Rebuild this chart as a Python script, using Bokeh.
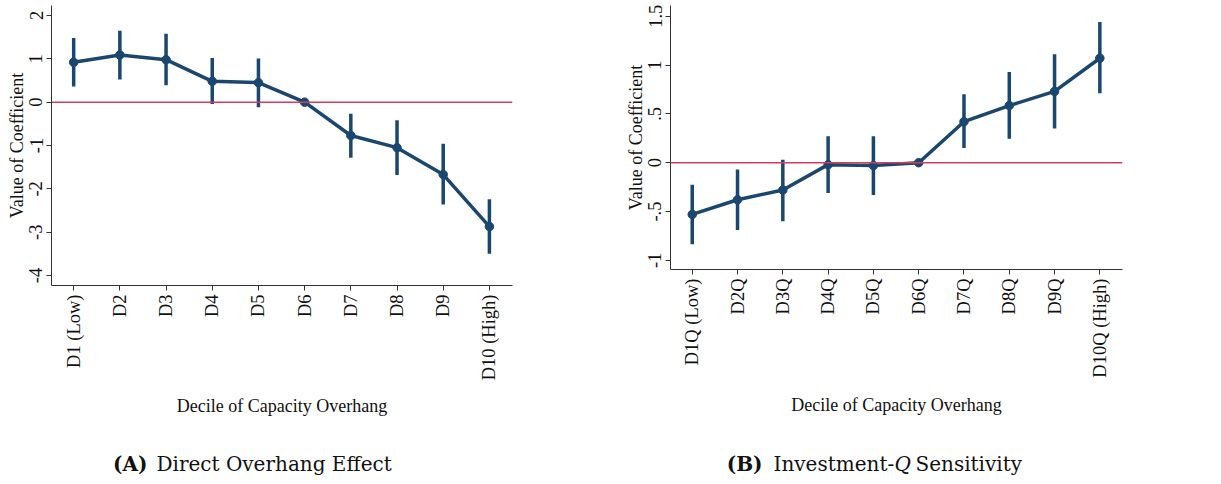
from bokeh.plotting import figure
from bokeh.layouts import column, row
from bokeh.models import FixedTicker, Span, ColumnDataSource, Range1d
from bokeh.core.properties import value
from bokeh.embed import file_html
from bokeh.resources import INLINE

# ---- data ----
cats_a = ["D1 (Low)", "D2", "D3", "D4", "D5", "D6", "D7", "D8", "D9", "D10 (High)"]
coef_a = [0.92, 1.09, 0.98, 0.48, 0.45, 0.0, -0.77, -1.05, -1.67, -2.87]
lo_a = [0.36, 0.52, 0.39, -0.04, -0.12, 0.0, -1.28, -1.68, -2.36, -3.50]
hi_a = [1.48, 1.65, 1.58, 1.02, 1.01, 0.0, -0.27, -0.42, -0.96, -2.24]
yticks_a = [2, 1, 0, -1, -2, -3, -4]
ylabels_a = ["2", "1", "0", "-1", "-2", "-3", "-4"]

cats_b = ["D1Q (Low)", "D2Q", "D3Q", "D4Q", "D5Q", "D6Q", "D7Q", "D8Q", "D9Q", "D10Q (High)"]
coef_b = [-0.53, -0.38, -0.28, -0.02, -0.03, 0.0, 0.42, 0.585, 0.73, 1.07]
lo_b = [-0.835, -0.69, -0.60, -0.31, -0.33, 0.0, 0.15, 0.245, 0.35, 0.71]
hi_b = [-0.225, -0.07, 0.03, 0.27, 0.27, 0.0, 0.70, 0.93, 1.11, 1.44]
yticks_b = [1.5, 1.0, 0.5, 0.0, -0.5, -1.0]
ylabels_b = ["1.5", "1", ".5", "0", "-.5", "-1"]

x_title = "Decile of Capacity Overhang"
y_title = "Value of Coefficient"

NAVY = "#1a476f"
RED = "#d43c5e"
AX = "#333333"
FONT = "Liberation Serif"
CAPFONT = "DejaVu Serif"


def panel(cats, coef, lo, hi, yticks, ylabels, yr, width, bl, br, bb, xstand):
    xs = list(range(1, len(cats) + 1))
    p = figure(width=width, height=420, output_backend="svg", toolbar_location=None,
               x_range=Range1d(0.52, 10.5), y_range=Range1d(*yr),
               min_border_left=bl, min_border_right=br, min_border_top=5,
               min_border_bottom=bb)
    p.outline_line_color = None
    p.xgrid.visible = False
    p.ygrid.visible = False
    p.background_fill_color = "white"
    p.border_fill_color = "white"

    p.add_layout(Span(location=0, dimension="width", line_color=RED, line_width=1.5))

    src = ColumnDataSource(dict(x=xs, y=coef, lo=lo, hi=hi))
    p.segment(x0="x", y0="lo", x1="x", y1="hi", source=src, line_color=NAVY, line_width=3.5)
    p.line("x", "y", source=src, line_color=NAVY, line_width=3.5)
    p.scatter("x", "y", source=src, size=8.5, fill_color=NAVY, line_color=NAVY)

    for ax in (p.xaxis[0], p.yaxis[0]):
        ax.axis_line_color = AX
        ax.major_tick_line_color = AX
        ax.major_tick_out = 5
        ax.major_tick_in = 0
        ax.minor_tick_line_color = None
        ax.major_label_text_font = FONT
        ax.major_label_text_font_size = "18.5px"
        ax.major_label_text_color = "#111111"
        ax.axis_label_text_font = FONT
        ax.axis_label_text_font_size = "18px"
        ax.axis_label_text_font_style = "normal"
        ax.axis_label_text_color = "#111111"

    p.xaxis.ticker = FixedTicker(ticks=xs)
    p.xaxis.major_label_overrides = {x: c for x, c in zip(xs, cats)}
    p.xaxis.major_label_orientation = 1.5708
    p.xaxis.major_label_standoff = 4
    p.xaxis.axis_label = x_title
    p.xaxis.axis_label_standoff = xstand

    p.yaxis.ticker = FixedTicker(ticks=yticks)
    p.yaxis.major_label_overrides = {t: l for t, l in zip(yticks, ylabels)}
    p.yaxis.major_label_orientation = "vertical"
    p.yaxis.major_label_standoff = 4
    p.yaxis.axis_label = y_title
    p.yaxis.axis_label_standoff = 0
    return p


def caption(parts, width, frame_lo, frame_hi, height=62, yc=19):
    # the caption's frame is aligned with the panel frame above it (column alignment),
    # so its x range is expressed in the figure's own pixel coordinates of that frame
    c = figure(width=width, height=height, output_backend="svg", toolbar_location=None,
               x_range=Range1d(frame_lo, frame_hi), y_range=Range1d(0, height),
               x_axis_type=None, y_axis_type=None, min_border=0)
    c.grid.visible = False
    c.outline_line_color = None
    for txt, x, align, style in parts:
        c.text(x=[x], y=[yc], text=[txt], text_font=value(CAPFONT),
               text_font_style=style, text_font_size="20px", text_align=align,
               text_baseline="middle", text_color="#111111")
    return c


p1 = panel(cats_a, coef_a, lo_a, hi_a, yticks_a, ylabels_a, (-4.23, 2.23), 610, 51, 98, 135, 13)
p2 = panel(cats_b, coef_b, lo_b, hi_b, yticks_b, ylabels_b, (-1.094, 1.61), 611, 60, 99, 151, 14)

c1 = caption([("(A)", 147, "right", "bold"),
              ("Direct Overhang Effect", 156, "left", "normal")], 610, 51, 512)
c2 = caption([("(B)", 152, "right", "bold"),
              ("Investment-", 163, "left", "normal"),
              ("Q", 284, "left", "italic"),
              ("Sensitivity", 305, "left", "normal")], 611, 60, 512)

layout = row(column(p1, c1), column(p2, c2))

open("out.html", "w").write(file_html(layout, INLINE))
